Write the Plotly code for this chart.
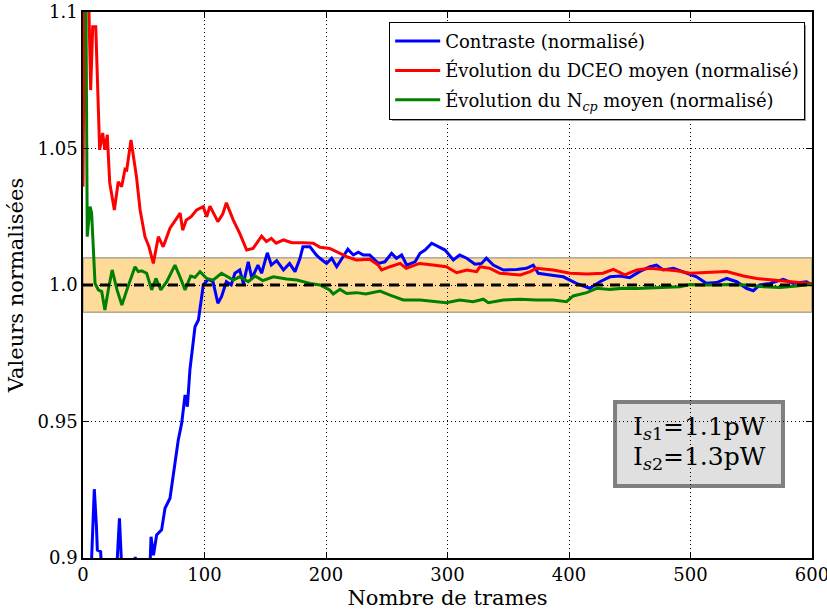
import plotly.graph_objects as go

# ---------------- data ----------------
red_x = [0, 1.5, 3.5, 5, 6.3, 8, 10.5, 13.7, 16.2, 18, 20, 22, 25.8, 29, 31.8, 34.6, 36, 39.5, 42, 44,
         47, 51, 54.3, 57.9, 62, 66, 71.6, 76, 80, 82, 85, 89, 93.6, 99, 101.8, 104.5, 108, 111, 115, 118,
         123.7, 129, 134.7, 140, 147, 151, 155, 159, 165, 172, 181, 189.6, 195, 203, 206, 217, 225, 236,
         243, 245.8, 252.7, 261, 266, 277, 288, 299, 307.5, 316, 324, 326.7, 335, 343, 360, 368, 373, 387,
         401, 414.6, 428, 436.5, 446, 455.7, 466.7, 477.6, 488.6, 499.6, 516, 529.8, 543.5, 554.5, 568,
         582, 595.6, 600]
red_y = [1.036, 1.13, 1.13, 1.09, 1.0714, 1.0946, 1.0946, 1.0495, 1.0557, 1.0495, 1.055, 1.0374, 1.0275,
         1.0378, 1.036, 1.0424, 1.0421, 1.0531, 1.0458, 1.0397, 1.0275, 1.0177, 1.014, 1.0079, 1.0177,
         1.014, 1.0208, 1.0235, 1.0263, 1.0201, 1.0238, 1.025, 1.0275, 1.0287, 1.025, 1.0289, 1.026,
         1.0232, 1.026, 1.0301, 1.0238, 1.0189, 1.0128, 1.0134, 1.0179, 1.0159, 1.0171, 1.0153, 1.0165,
         1.0155, 1.0155, 1.0153, 1.0138, 1.0134, 1.0128, 1.0104, 1.0092, 1.0094, 1.0073, 1.0055, 1.0067,
         1.0079, 1.0061, 1.0079, 1.0073, 1.0067, 1.0045, 1.0055, 1.0049, 1.0067, 1.0061, 1.0043, 1.0037,
         1.0049, 1.0061, 1.0055, 1.0043, 1.004, 1.0043, 1.0057, 1.0037, 1.0055, 1.0061, 1.0057, 1.0052,
         1.0043, 1.0045, 1.0049, 1.0033, 1.0024, 1.0018, 1.0012, 1.0006, 1.0005]

blue_x = [0, 6, 7.1, 9.3, 11, 11.8, 14.5, 16, 22, 27, 30, 32, 38, 43, 46, 52, 55, 56, 58, 60.6, 64.7,
          67.5, 71.6, 74.3, 78.4, 81.2, 84, 85.9, 88, 92.2, 95, 99, 103, 107, 111, 114, 118, 122, 125,
          129, 132, 136, 139, 144, 147, 151.7, 155, 159.4, 165, 170, 174.5, 178.6, 181, 186.8, 192, 195,
          200.5, 204.7, 208.8, 218, 222.5, 226.6, 230.7, 236, 243, 248.5, 254, 258, 262.3, 266.4, 273.3,
          277.4, 281.5, 287, 292.4, 298, 304.8, 310, 315.8, 322.6, 328, 332, 337.7, 346, 357, 365, 370.6,
          374.7, 384.4, 395.3, 406, 417, 425.5, 433.7, 442, 450, 458, 466.7, 472, 477.6, 486, 497, 505,
          513, 521.5, 529.8, 538, 546, 551.7, 557, 565.4, 576.4, 584.6, 595.6, 600]
blue_y = [0.85, 0.86, 0.9, 0.9252, 0.912, 0.9029, 0.9023, 0.89, 0.87, 0.89, 0.9145, 0.895, 0.88, 0.9004,
          0.89, 0.88, 0.895, 0.9078, 0.901, 0.9084, 0.9103, 0.9182, 0.9219, 0.931, 0.9432, 0.9493, 0.9597,
          0.9554, 0.9689, 0.9847, 0.9872, 1.0, 1.0021, 1.0012, 0.9933, 0.9957, 1.0012, 1.0, 1.0043, 1.0055,
          1.0005, 1.0085, 1.0024, 1.0073, 1.0043, 1.0118, 1.0073, 1.0089, 1.0055, 1.0079, 1.0049, 1.0098,
          1.014, 1.014, 1.011, 1.0098, 1.0079, 1.0098, 1.0067, 1.0131, 1.011, 1.012, 1.011, 1.011, 1.0079,
          1.0085, 1.0116, 1.0098, 1.011, 1.0073, 1.0085, 1.0116, 1.0128, 1.0153, 1.014, 1.0128, 1.0092,
          1.011, 1.0098, 1.0076, 1.0079, 1.0098, 1.0073, 1.0055, 1.0057, 1.0061, 1.0073, 1.0043, 1.0037,
          1.003, 1.0006, 0.9988, 1.0012, 1.003, 1.0033, 1.0027, 1.0049, 1.0067, 1.0073, 1.0055, 1.0061,
          1.0043, 1.003, 1.0006, 1.0009, 1.0024, 1.0012, 0.9988, 0.9979, 1.0, 1.0006, 1.0021, 1.0006,
          1.0012, 1.0]

green_x = [0, 2.3, 3.5, 5.8, 7.1, 9.9, 12.6, 15.4, 18, 20.8, 24, 28, 32, 37, 42.8, 45.5, 48.3, 52.4,
           56.5, 60, 64, 68.9, 75.7, 79.8, 84, 88.6, 92.2, 96.3, 101.8, 107, 114, 123.7, 129, 136, 141.6,
           148, 156.6, 167.6, 176, 186.8, 195, 197.8, 203, 206, 211.5, 217, 225, 232.8, 244.4, 252.7,
           263.6, 277.4, 288.3, 299, 310, 321, 329.5, 333.6, 346, 359.7, 373, 387, 398, 403.5, 414.6,
           422.8, 433.7, 444.7, 455.7, 463.9, 477.6, 491.4, 499.6, 513, 532.5, 546, 560, 573.6, 587.4,
           597, 600]
green_y = [1.3, 1.12, 1.0177, 1.0287, 1.0263, 1.0006, 0.9982, 0.9976, 0.9908, 0.9982, 1.0055, 0.9982,
           0.9927, 0.9994, 1.0067, 1.0049, 1.0052, 1.0043, 0.9982, 1.0024, 0.9982, 1.0012, 1.0073, 1.003,
           0.9982, 1.0033, 1.0028, 1.0049, 1.0024, 1.0018, 1.0043, 1.0018, 1.003, 1.0012, 1.0033, 1.0016,
           1.003, 1.0022, 1.0018, 1.0006, 1.0, 0.9994, 0.9982, 0.9967, 0.9984, 0.9969, 0.9972, 0.9967,
           0.9978, 0.9963, 0.9945, 0.9945, 0.9939, 0.9935, 0.9945, 0.9939, 0.9948, 0.9935, 0.9945, 0.9948,
           0.9945, 0.9945, 0.9939, 0.996, 0.9972, 0.9988, 0.9984, 0.9988, 0.9987, 0.9988, 0.9991, 0.9994,
           1.0002, 1.0, 1.0002, 1.0, 0.9994, 0.9991, 0.9996, 1.0002, 1.0]

ref_x = [0, 600]
ref_y = [1.0, 1.0]
band_low, band_high = 0.99, 1.01

x_ticks = [0, 100, 200, 300, 400, 500, 600]
y_ticks = [0.9, 0.95, 1.0, 1.05, 1.1]
y_ticklabels = ["0.9", "0.95", "1.0", "1.05", "1.1"]

names = ["Contraste (normalisé)",
         "Évolution du DCEO moyen (normalisé)",
         "Évolution du N<sub><i>cp</i></sub> moyen (normalisé)"]
box_lines = ["I<sub><i>s</i>1</sub>=1.1pW", "I<sub><i>s</i>2</sub>=1.3pW"]

FONT = "DejaVu Serif"

fig = go.Figure()
for i, (xs, ys, col) in enumerate([(blue_x, blue_y, "#0000ff"),
                                   (red_x, red_y, "#ff0000"),
                                   (green_x, green_y, "#008000")]):
    fig.add_trace(go.Scatter(x=xs, y=ys, mode="lines", name=names[i], legendgroup=f"g{i}",
                             line=dict(color=col, width=3)))
fig.add_trace(go.Scatter(x=ref_x, y=ref_y, mode="lines", showlegend=False,
                         line=dict(color="black", width=3, dash="10px,7px")))

# tolerance band
fig.add_shape(type="rect", xref="paper", yref="y", x0=0, x1=1, y0=band_low, y1=band_high,
              fillcolor="#ffdb99", line=dict(color="rgba(120,120,120,0.6)", width=1.5), layer="below")
# legend shadow
fig.add_shape(type="rect", xref="paper", yref="paper", x0=0.4239, x1=0.9918, y0=0.8004, y1=0.9762,
              fillcolor="#9a9a9a", line=dict(width=0), layer="above")
# info box
fig.add_shape(type="rect", xref="paper", yref="paper", x0=0.7298, x1=0.9602, y0=0.1319, y1=0.2857,
              fillcolor="#e0e0e0", line=dict(color="#808080", width=4), layer="below")
fig.add_annotation(xref="paper", yref="paper", x=0.845, y=0.2372, text=box_lines[0], showarrow=False,
                   font=dict(family=FONT, size=25, color="black"), xanchor="center", yanchor="middle")
fig.add_annotation(xref="paper", yref="paper", x=0.845, y=0.1840, text=box_lines[1], showarrow=False,
                   font=dict(family=FONT, size=25, color="black"), xanchor="center", yanchor="middle")

axis_common = dict(showline=True, linecolor="black", linewidth=1.5, mirror="ticks", ticks="inside",
                   ticklen=6, tickwidth=1, tickcolor="black", showgrid=True, gridcolor="black",
                   gridwidth=1, griddash="1px,3px", zeroline=False, automargin=False,
                   ticklabeloverflow="allow",
                   tickfont=dict(family=FONT, size=18, color="black"))

fig.update_xaxes(range=[0, 600], tickvals=x_ticks, **axis_common,
                 title=dict(text="Nombre de trames", font=dict(family=FONT, size=21, color="black"),
                            standoff=6))
fig.update_yaxes(range=[0.9, 1.1], tickvals=y_ticks, ticktext=y_ticklabels, **axis_common,
                 title=dict(text="Valeurs normalisées", font=dict(family=FONT, size=21, color="black"),
                            standoff=8))

fig.update_layout(
    width=827, height=615,
    margin=dict(l=83, r=15, t=12, b=57),
    paper_bgcolor="white", plot_bgcolor="white",
    font=dict(family=FONT, color="black"),
    showlegend=True,
    legend=dict(x=0.42, y=0.982, xanchor="left", yanchor="top", bgcolor="white",
                bordercolor="black", borderwidth=1, font=dict(family=FONT, size=18, color="black"),
                itemwidth=45, tracegroupgap=3, traceorder="grouped"),
)

fig.write_html("out.html", config={"displayModeBar": False},
               post_script="document.body.style.margin='0';document.body.style.overflow='hidden';")
